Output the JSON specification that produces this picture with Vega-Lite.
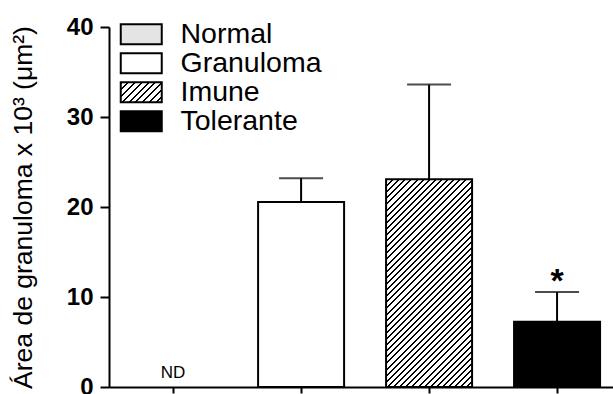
{
  "$schema": "https://vega.github.io/schema/vega-lite/v6.json",
  "autosize": {"type": "none"},
  "padding": {"left": 109, "top": 27, "right": 0, "bottom": 7},
  "width": 504,
  "height": 360,
  "background": "white",
  "config": {
    "font": "Liberation Sans",
    "view": {"stroke": null},
    "axis": {"grid": false, "domainColor": "#000", "domainWidth": 2, "tickColor": "#000", "tickWidth": 2, "labelColor": "#000", "titleColor": "#000"}
  },
  "data": {
    "values": [
      {"group": "Normal", "mean": null, "upper": null, "note": "ND"},
      {"group": "Granuloma", "mean": 20.55, "upper": 23.2, "note": ""},
      {"group": "Imune", "mean": 23.07, "upper": 33.6, "note": ""},
      {"group": "Tolerante", "mean": 7.26, "upper": 10.55, "note": "*"}
    ]
  },
  "encoding": {
    "x": {
      "field": "group", "type": "nominal",
      "scale": {"domain": ["Normal", "Granuloma", "Imune", "Tolerante"], "paddingInner": 0.328, "paddingOuter": 0.133, "align": 0.62},
      "axis": {"title": null, "labels": false, "ticks": true, "tickSize": 6}
    }
  },
  "layer": [
    {
      "mark": {"type": "bar", "stroke": "#000", "strokeWidth": 2},
      "encoding": {
        "y": {
          "field": "mean", "type": "quantitative",
          "scale": {"domain": [0, 40], "nice": false},
          "axis": {"values": [0, 10, 20, 30, 40], "title": "Área de granuloma x 10³ (μm²)", "titleFontSize": 26.5, "titleFontWeight": "normal", "titlePadding": 29, "labelFontSize": 24, "labelFontWeight": "bold", "tickSize": 9, "labelPadding": 7}
        },
        "fill": {
          "field": "group", "type": "nominal",
          "scale": {"domain": ["Normal", "Granuloma", "Imune", "Tolerante"], "range": ["#e4e4e4", "#ffffff", {"expr": "{gradient:'linear',x1:0,y1:0,x2:1.202,y2:0.586,stops:[{offset:0,color:'#000'},{offset:0.033,color:'#000'},{offset:0.033,color:'#fff'},{offset:0.1111,color:'#fff'},{offset:0.1111,color:'#000'},{offset:0.1444,color:'#000'},{offset:0.1444,color:'#fff'},{offset:0.2222,color:'#fff'},{offset:0.2222,color:'#000'},{offset:0.2555,color:'#000'},{offset:0.2555,color:'#fff'},{offset:0.3333,color:'#fff'},{offset:0.3333,color:'#000'},{offset:0.3666,color:'#000'},{offset:0.3666,color:'#fff'},{offset:0.4444,color:'#fff'},{offset:0.4444,color:'#000'},{offset:0.4777,color:'#000'},{offset:0.4777,color:'#fff'},{offset:0.5556,color:'#fff'},{offset:0.5556,color:'#000'},{offset:0.5889,color:'#000'},{offset:0.5889,color:'#fff'},{offset:0.6667,color:'#fff'},{offset:0.6667,color:'#000'},{offset:0.7,color:'#000'},{offset:0.7,color:'#fff'},{offset:0.7778,color:'#fff'},{offset:0.7778,color:'#000'},{offset:0.8111,color:'#000'},{offset:0.8111,color:'#fff'},{offset:0.8889,color:'#fff'},{offset:0.8889,color:'#000'},{offset:0.9222,color:'#000'},{offset:0.9222,color:'#fff'},{offset:1,color:'#fff'}]}"}, "#000000"]},
          "condition": {"test": "datum.group === 'Imune'", "value": {"gradient": "linear", "x1": 0, "y1": 0, "x2": 0.5, "y2": 1.207, "stops": [
            {"offset":0,"color":"#000"},{"offset":0.0069,"color":"#000"},{"offset":0.0069,"color":"#fff"},{"offset":0.0208,"color":"#fff"},
            {"offset":0.0208,"color":"#000"},{"offset":0.0277,"color":"#000"},{"offset":0.0277,"color":"#fff"},{"offset":0.0417,"color":"#fff"},
            {"offset":0.0417,"color":"#000"},{"offset":0.0486,"color":"#000"},{"offset":0.0486,"color":"#fff"},{"offset":0.0625,"color":"#fff"},
            {"offset":0.0625,"color":"#000"},{"offset":0.0694,"color":"#000"},{"offset":0.0694,"color":"#fff"},{"offset":0.0833,"color":"#fff"},
            {"offset":0.0833,"color":"#000"},{"offset":0.0902,"color":"#000"},{"offset":0.0902,"color":"#fff"},{"offset":0.1042,"color":"#fff"},
            {"offset":0.1042,"color":"#000"},{"offset":0.1111,"color":"#000"},{"offset":0.1111,"color":"#fff"},{"offset":0.125,"color":"#fff"},
            {"offset":0.125,"color":"#000"},{"offset":0.1319,"color":"#000"},{"offset":0.1319,"color":"#fff"},{"offset":0.1458,"color":"#fff"},
            {"offset":0.1458,"color":"#000"},{"offset":0.1527,"color":"#000"},{"offset":0.1527,"color":"#fff"},{"offset":0.1667,"color":"#fff"},
            {"offset":0.1667,"color":"#000"},{"offset":0.1736,"color":"#000"},{"offset":0.1736,"color":"#fff"},{"offset":0.1875,"color":"#fff"},
            {"offset":0.1875,"color":"#000"},{"offset":0.1944,"color":"#000"},{"offset":0.1944,"color":"#fff"},{"offset":0.2083,"color":"#fff"},
            {"offset":0.2083,"color":"#000"},{"offset":0.2152,"color":"#000"},{"offset":0.2152,"color":"#fff"},{"offset":0.2292,"color":"#fff"},
            {"offset":0.2292,"color":"#000"},{"offset":0.2361,"color":"#000"},{"offset":0.2361,"color":"#fff"},{"offset":0.25,"color":"#fff"},
            {"offset":0.25,"color":"#000"},{"offset":0.2569,"color":"#000"},{"offset":0.2569,"color":"#fff"},{"offset":0.2708,"color":"#fff"},
            {"offset":0.2708,"color":"#000"},{"offset":0.2777,"color":"#000"},{"offset":0.2777,"color":"#fff"},{"offset":0.2917,"color":"#fff"},
            {"offset":0.2917,"color":"#000"},{"offset":0.2986,"color":"#000"},{"offset":0.2986,"color":"#fff"},{"offset":0.3125,"color":"#fff"},
            {"offset":0.3125,"color":"#000"},{"offset":0.3194,"color":"#000"},{"offset":0.3194,"color":"#fff"},{"offset":0.3333,"color":"#fff"},
            {"offset":0.3333,"color":"#000"},{"offset":0.3402,"color":"#000"},{"offset":0.3402,"color":"#fff"},{"offset":0.3542,"color":"#fff"},
            {"offset":0.3542,"color":"#000"},{"offset":0.3611,"color":"#000"},{"offset":0.3611,"color":"#fff"},{"offset":0.375,"color":"#fff"},
            {"offset":0.375,"color":"#000"},{"offset":0.3819,"color":"#000"},{"offset":0.3819,"color":"#fff"},{"offset":0.3958,"color":"#fff"},
            {"offset":0.3958,"color":"#000"},{"offset":0.4027,"color":"#000"},{"offset":0.4027,"color":"#fff"},{"offset":0.4167,"color":"#fff"},
            {"offset":0.4167,"color":"#000"},{"offset":0.4236,"color":"#000"},{"offset":0.4236,"color":"#fff"},{"offset":0.4375,"color":"#fff"},
            {"offset":0.4375,"color":"#000"},{"offset":0.4444,"color":"#000"},{"offset":0.4444,"color":"#fff"},{"offset":0.4583,"color":"#fff"},
            {"offset":0.4583,"color":"#000"},{"offset":0.4652,"color":"#000"},{"offset":0.4652,"color":"#fff"},{"offset":0.4792,"color":"#fff"},
            {"offset":0.4792,"color":"#000"},{"offset":0.4861,"color":"#000"},{"offset":0.4861,"color":"#fff"},{"offset":0.5,"color":"#fff"},
            {"offset":0.5,"color":"#000"},{"offset":0.5069,"color":"#000"},{"offset":0.5069,"color":"#fff"},{"offset":0.5208,"color":"#fff"},
            {"offset":0.5208,"color":"#000"},{"offset":0.5277,"color":"#000"},{"offset":0.5277,"color":"#fff"},{"offset":0.5417,"color":"#fff"},
            {"offset":0.5417,"color":"#000"},{"offset":0.5486,"color":"#000"},{"offset":0.5486,"color":"#fff"},{"offset":0.5625,"color":"#fff"},
            {"offset":0.5625,"color":"#000"},{"offset":0.5694,"color":"#000"},{"offset":0.5694,"color":"#fff"},{"offset":0.5833,"color":"#fff"},
            {"offset":0.5833,"color":"#000"},{"offset":0.5902,"color":"#000"},{"offset":0.5902,"color":"#fff"},{"offset":0.6042,"color":"#fff"},
            {"offset":0.6042,"color":"#000"},{"offset":0.6111,"color":"#000"},{"offset":0.6111,"color":"#fff"},{"offset":0.625,"color":"#fff"},
            {"offset":0.625,"color":"#000"},{"offset":0.6319,"color":"#000"},{"offset":0.6319,"color":"#fff"},{"offset":0.6458,"color":"#fff"},
            {"offset":0.6458,"color":"#000"},{"offset":0.6527,"color":"#000"},{"offset":0.6527,"color":"#fff"},{"offset":0.6667,"color":"#fff"},
            {"offset":0.6667,"color":"#000"},{"offset":0.6736,"color":"#000"},{"offset":0.6736,"color":"#fff"},{"offset":0.6875,"color":"#fff"},
            {"offset":0.6875,"color":"#000"},{"offset":0.6944,"color":"#000"},{"offset":0.6944,"color":"#fff"},{"offset":0.7083,"color":"#fff"},
            {"offset":0.7083,"color":"#000"},{"offset":0.7152,"color":"#000"},{"offset":0.7152,"color":"#fff"},{"offset":0.7292,"color":"#fff"},
            {"offset":0.7292,"color":"#000"},{"offset":0.7361,"color":"#000"},{"offset":0.7361,"color":"#fff"},{"offset":0.75,"color":"#fff"},
            {"offset":0.75,"color":"#000"},{"offset":0.7569,"color":"#000"},{"offset":0.7569,"color":"#fff"},{"offset":0.7708,"color":"#fff"},
            {"offset":0.7708,"color":"#000"},{"offset":0.7777,"color":"#000"},{"offset":0.7777,"color":"#fff"},{"offset":0.7917,"color":"#fff"},
            {"offset":0.7917,"color":"#000"},{"offset":0.7986,"color":"#000"},{"offset":0.7986,"color":"#fff"},{"offset":0.8125,"color":"#fff"},
            {"offset":0.8125,"color":"#000"},{"offset":0.8194,"color":"#000"},{"offset":0.8194,"color":"#fff"},{"offset":0.8333,"color":"#fff"},
            {"offset":0.8333,"color":"#000"},{"offset":0.8402,"color":"#000"},{"offset":0.8402,"color":"#fff"},{"offset":0.8542,"color":"#fff"},
            {"offset":0.8542,"color":"#000"},{"offset":0.8611,"color":"#000"},{"offset":0.8611,"color":"#fff"},{"offset":0.875,"color":"#fff"},
            {"offset":0.875,"color":"#000"},{"offset":0.8819,"color":"#000"},{"offset":0.8819,"color":"#fff"},{"offset":0.8958,"color":"#fff"},
            {"offset":0.8958,"color":"#000"},{"offset":0.9027,"color":"#000"},{"offset":0.9027,"color":"#fff"},{"offset":0.9167,"color":"#fff"},
            {"offset":0.9167,"color":"#000"},{"offset":0.9236,"color":"#000"},{"offset":0.9236,"color":"#fff"},{"offset":0.9375,"color":"#fff"},
            {"offset":0.9375,"color":"#000"},{"offset":0.9444,"color":"#000"},{"offset":0.9444,"color":"#fff"},{"offset":0.9583,"color":"#fff"},
            {"offset":0.9583,"color":"#000"},{"offset":0.9652,"color":"#000"},{"offset":0.9652,"color":"#fff"},{"offset":0.9792,"color":"#fff"},
            {"offset":0.9792,"color":"#000"},{"offset":0.9861,"color":"#000"},{"offset":0.9861,"color":"#fff"},{"offset":1,"color":"#fff"}
          ]}},
          "legend": {
            "title": null,
            "orient": "none",
            "legendX": 8,
            "legendY": -7,
            "symbolType": "M-2.05,-1H2.05V1H-2.05Z",
            "symbolSize": 400,
            "symbolOffset": 10,
            "symbolStrokeWidth": 2,
            "symbolStrokeColor": "#000",
            "labelFontSize": 28.5,
            "labelColor": "#000",
            "labelOffset": 25,
            "rowPadding": 0,
            "labelLimit": 300
          }
        }
      }
    },
    {
      "mark": {"type": "rule", "color": "#000", "strokeWidth": 2},
      "encoding": {"y": {"field": "mean", "type": "quantitative"}, "y2": {"field": "upper"}}
    },
    {
      "mark": {"type": "tick", "color": "#000", "thickness": 2, "size": 44},
      "encoding": {"y": {"field": "upper", "type": "quantitative"}}
    },
    {
      "transform": [{"filter": "datum.note === 'ND'"}],
      "mark": {"type": "text", "fontSize": 17, "color": "#000", "baseline": "alphabetic", "dy": -9},
      "encoding": {"y": {"datum": 0}, "text": {"field": "note"}}
    },
    {
      "transform": [{"filter": "datum.note === '*'"}],
      "mark": {"type": "text", "fontSize": 34, "fontWeight": "bold", "color": "#000", "baseline": "alphabetic", "dy": 0},
      "encoding": {"y": {"field": "upper", "type": "quantitative"}, "text": {"field": "note"}}
    }
  ]
}
